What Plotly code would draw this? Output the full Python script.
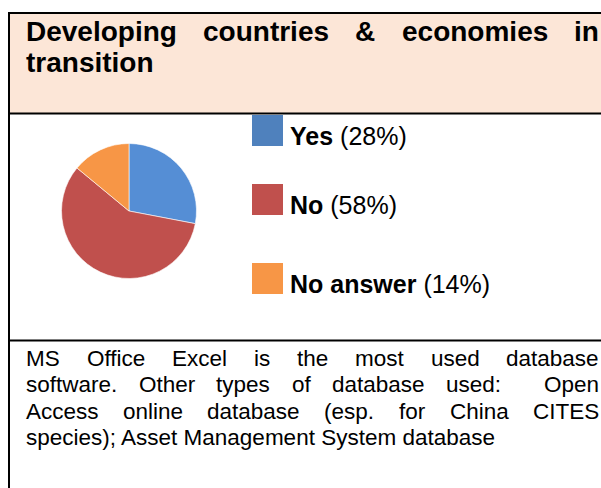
import plotly.graph_objects as go

# data
labels = ["Yes", "No", "No answer"]
shares = [28, 58, 14]
pie_colors = ["#558ED5", "#C0504D", "#F79646"]
key_colors = ["#4F81BD", "#C0504D", "#F79646"]

header_lines = ["Developing countries & economies in", "transition"]
note_lines = [
    "MS Office Excel is the most used database",
    "software. Other types of database used:  Open",
    "Access online database (esp. for China CITES",
    "species); Asset Management System database",
]

W, H = 601, 488
FONT = "Liberation Sans, Arial, sans-serif"

# Arial advance widths (per 1000 em) for justifying lines
REG = {" ": 278, "(": 333, ")": 333, ".": 278, ":": 278, ";": 278, "%": 889, "&": 667,
       "A": 667, "C": 722, "E": 667, "I": 278, "M": 833, "O": 778, "S": 667, "T": 611,
       "N": 722, "D": 722, "Y": 667,
       "a": 556, "b": 556, "c": 500, "d": 556, "e": 556, "f": 278, "g": 556, "h": 556,
       "i": 222, "l": 222, "m": 833, "n": 556, "o": 556, "p": 556, "r": 333, "s": 500,
       "t": 278, "u": 556, "v": 500, "w": 722, "x": 500, "y": 500}
BOLD = {" ": 278, "&": 722, "D": 722, "a": 556, "c": 556, "e": 556, "g": 611, "i": 278,
        "l": 278, "m": 889, "n": 611, "o": 611, "p": 611, "r": 389, "s": 556, "t": 333,
        "u": 611, "v": 556}


# pixel -> paper fraction
def px(x):
    return x / W


def py(y):
    return 1 - y / H


def text_w(s, table, fs):
    return sum(table.get(ch, 556) for ch in s) * fs / 1000


annotations = []


def put_line(line, baseline, fs, table, bold, x0=25, x1=598, justify=True):
    yc = py(baseline - 0.35 * fs)
    font = dict(size=fs, color="black", family=FONT)
    words = line.split(" ")
    if not justify or len(words) == 1:
        txt = f"<b>{line}</b>" if bold else line
        annotations.append(dict(text=txt, x=px(x0), y=yc, xanchor="left", yanchor="middle", font=font))
        return
    total = sum(text_w(w, table, fs) for w in words)
    gap = (x1 - x0 - total) / (len(words) - 1)
    x = x0
    for w in words:
        if w:
            txt = f"<b>{w}</b>" if bold else w
            annotations.append(dict(text=txt, x=px(x), y=yc, xanchor="left", yanchor="middle", font=font))
        x += text_w(w, table, fs) + gap


HFS = 28
put_line(header_lines[0], 41, HFS, BOLD, True)
put_line(header_lines[1], 72, HFS, BOLD, True, justify=False)

NFS = 22.5
for i, line in enumerate(note_lines):
    put_line(line, 366 + i * 26.5, NFS, REG, False, justify=i < len(note_lines) - 1)

for a in annotations:
    a.update(xref="paper", yref="paper", showarrow=False, borderpad=0)

shapes = [
    dict(type="rect", x0=px(10), x1=px(620), y0=py(13), y1=py(113),
         fillcolor="#FCE6D7", line=dict(width=0), layer="below"),
    dict(type="line", x0=px(9), x1=px(9), y0=py(12), y1=py(520), line=dict(color="black", width=2)),
    dict(type="line", x0=px(8), x1=px(620), y0=py(13), y1=py(13), line=dict(color="black", width=2)),
    dict(type="line", x0=px(8), x1=px(620), y0=py(113.5), y1=py(113.5), line=dict(color="black", width=2)),
    dict(type="line", x0=px(8), x1=px(620), y0=py(340.5), y1=py(340.5), line=dict(color="black", width=2)),
]

# key: coloured squares with labels
key_tops = [115, 184, 263]
LFS = 25
for lab, val, col, top in zip(labels, shares, key_colors, key_tops):
    shapes.append(dict(type="rect", x0=px(252), x1=px(283), y0=py(top), y1=py(top + 31),
                       fillcolor=col, line=dict(width=0)))
    annotations.append(dict(text=f"<b>{lab}</b> ({val}%)", x=px(289), y=py(top + 30 - 0.35 * LFS),
                            xref="paper", yref="paper", xanchor="left", yanchor="middle",
                            showarrow=False, borderpad=0,
                            font=dict(size=LFS, color="black", family=FONT)))

fig = go.Figure(go.Pie(
    labels=labels,
    values=shares,
    sort=False,
    direction="clockwise",
    rotation=0,
    textinfo="none",
    hoverinfo="label+percent",
    marker=dict(colors=pie_colors, line=dict(color="white", width=0.6)),
    domain=dict(x=[px(61.5), px(196.5)], y=[py(278.5), py(143.5)]),
))

fig.update_layout(
    width=W,
    height=H,
    margin=dict(l=0, r=0, t=0, b=0),
    paper_bgcolor="white",
    showlegend=False,
    shapes=shapes,
    annotations=annotations,
)

# drop the default page margin so the figure sits at the window's corner
fig.write_html("out.html", config={"displayModeBar": False},
               post_script="document.body.style.margin='0';document.body.style.overflow='hidden';")
